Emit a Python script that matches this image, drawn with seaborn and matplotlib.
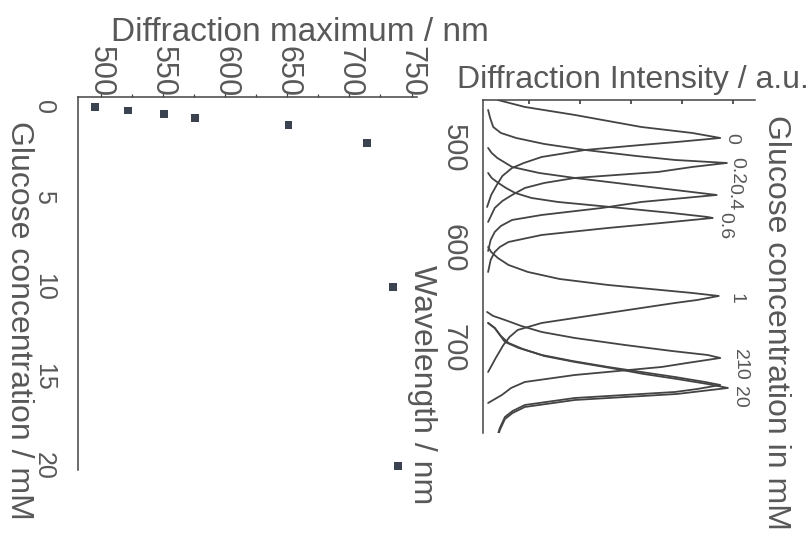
import matplotlib
matplotlib.use('Agg')
import matplotlib.pyplot as plt
from matplotlib.ticker import MultipleLocator
import seaborn as sns
import pandas as pd

sns.set_theme(style='white')
plt.rcParams['font.family'] = ['Liberation Sans', 'DejaVu Sans']

# ---- left panel: diffraction maximum vs glucose ----
glucose = [0, 0.2, 0.4, 0.6, 1, 2, 10, 20]
diff_max = [495, 522, 551, 576, 651, 714, 735, 739]

# ---- right panel: spectra (intensity a.u. vs wavelength nm) ----
curve_labels = ['0', '0.2', '0.4', '0.6', '1', '2', '10', '20']
lam_0 = [452, 459, 467, 479, 485, 490, 494, 497, 502, 509, 515, 520, 528, 537, 547, 559]
int_0 = [0.39, 0.92, 1.9, 3.2, 4.2, 4.75, 3.9, 3.2, 2.1, 1.25, 0.9, 0.67, 0.48, 0.37, 0.26, 0.18]
lam_02 = [462, 470, 479, 485, 490, 496, 502, 508, 512, 515, 519, 524, 530, 535, 540, 547, 553, 560, 574]
int_02 = [0.2, 0.24, 0.3, 0.45, 0.75, 1.3, 2.1, 3.1, 3.86, 4.88, 4.2, 3.53, 1.9, 1.3, 0.92, 0.67, 0.48, 0.33, 0.2]
lam_04 = [500, 505, 510, 519, 525, 530, 540, 547, 554, 560, 567, 572, 578, 584, 592, 603]
int_04 = [0.2, 0.27, 0.38, 0.67, 1.2, 1.9, 3.53, 4.68, 3.2, 2.43, 1.25, 0.67, 0.45, 0.33, 0.25, 0.2]
lam_06 = [525, 530, 535, 540, 545, 550, 554, 560, 565, 569, 570, 575, 580, 587, 594, 599, 604, 612, 624]
int_06 = [0.2, 0.27, 0.4, 0.55, 0.73, 1.05, 1.57, 2.8, 3.8, 4.5, 4.6, 3.6, 2.55, 1.25, 0.6, 0.43, 0.33, 0.25, 0.2]
lam_1 = [599, 604, 610, 617, 624, 631, 637, 645, 648, 652, 655, 665, 675, 682, 689, 697, 710, 724]
int_1 = [0.2, 0.26, 0.39, 0.6, 0.98, 1.6, 2.55, 4.2, 4.72, 4.3, 3.86, 2.55, 1.25, 0.78, 0.62, 0.5, 0.35, 0.2]
lam_2 = [664, 668, 672, 678, 684, 690, 697, 703, 707, 710, 715, 719, 727, 734, 740, 747, 755]
int_2 = [0.18, 0.3, 0.53, 0.85, 1.25, 1.9, 2.88, 3.8, 4.5, 4.75, 4.1, 3.6, 1.9, 0.92, 0.65, 0.47, 0.2]
lam_10 = [675, 680, 687, 694, 700, 707, 713, 719, 724, 729, 734, 737, 741, 744, 750, 757, 763, 769, 780, 790]
int_10 = [0.2, 0.33, 0.43, 0.53, 0.8, 1.25, 1.85, 2.55, 3.2, 3.86, 4.45, 4.75, 4.3, 3.86, 1.9, 0.92, 0.68, 0.53, 0.43, 0.37]
lam_20 = [675, 680, 688, 695, 701, 708, 714, 720, 726, 731, 736, 740, 743, 746, 752, 759, 765, 771, 782, 792]
int_20 = [0.2, 0.33, 0.45, 0.6, 0.88, 1.3, 1.9, 2.6, 3.25, 3.9, 4.5, 4.9, 4.4, 3.9, 1.9, 0.92, 0.68, 0.53, 0.43, 0.37]
label_int = [4.8, 4.9, 4.84, 4.67, 4.9, 4.96, 4.96, 4.96]
label_lam = [490, 523, 549, 578, 650, 706, 722, 749]

spectra = [(lam_0, int_0), (lam_02, int_02), (lam_04, int_04), (lam_06, int_06),
           (lam_1, int_1), (lam_2, int_2), (lam_10, int_10), (lam_20, int_20)]

ink = '#444444'
txt = '#585858'

fig = plt.figure(figsize=(8.1, 5.36), dpi=100)
ax1 = fig.add_axes([0.0963, 0.1231, 0.4185, 0.6959])
ax2 = fig.add_axes([0.5963, 0.1922, 0.3358, 0.6213])

# left panel
df1 = pd.DataFrame({'max': diff_max, 'glc': glucose})
sns.scatterplot(data=df1, x='max', y='glc', marker='s', s=32, color='#3b4250',
                edgecolor='none', ax=ax1)
ax1.set_xlim(481.5, 754.4)
ax1.set_ylim(20.2, -0.55)
ax1.xaxis.tick_top()
ax1.xaxis.set_major_locator(MultipleLocator(50))
ax1.xaxis.set_minor_locator(MultipleLocator(25))
ax1.yaxis.set_major_locator(MultipleLocator(5))
ax1.yaxis.set_minor_locator(MultipleLocator(2.5))
for s in ['right', 'bottom']:
    ax1.spines[s].set_visible(False)
for s in ['top', 'left']:
    ax1.spines[s].set_color(ink)
    ax1.spines[s].set_linewidth(1.1)
ax1.tick_params(axis='both', which='both', direction='out', color=ink,
                labelcolor=txt, width=0.9)
ax1.tick_params(which='major', length=3)
ax1.tick_params(which='minor', length=2.5)
ax1.tick_params(axis='x', labelrotation=-90, pad=-3, labelsize=22)
ax1.tick_params(axis='y', labelrotation=-90, pad=13, labelsize=18)
for lab in ax1.get_yticklabels():
    lab.set_va('center')
ax1.xaxis.set_label_position('top')
ax1.set_xlabel('Diffraction maximum / nm', fontsize=24, color=txt)
ax1.xaxis.label.set_va('center')
ax1.xaxis.set_label_coords(0.655, 1.174)
ax1.set_ylabel('Glucose concentration / mM', fontsize=23, color=txt,
               rotation=-90, va='center', ha='center')
ax1.yaxis.set_label_coords(-0.174, 0.402)

# right panel
for (lam, inten) in spectra:
    sns.lineplot(x=inten, y=lam, sort=False, estimator=None, color=ink,
                 linewidth=1.3, ax=ax2)
for lab, xi, yi in zip(curve_labels, label_int, label_lam):
    ax2.text(xi, yi, lab, rotation=-90, fontsize=14, color=txt,
             ha='left', va='center', clip_on=False)
ax2.set_xlim(0.1, 5.43)
ax2.set_ylim(785, 452)
ax2.xaxis.tick_top()
ax2.xaxis.set_major_locator(MultipleLocator(1))
ax2.set_xticklabels([])
ax2.yaxis.set_major_locator(MultipleLocator(100))
ax2.yaxis.set_minor_locator(MultipleLocator(50))
for s in ['right', 'bottom']:
    ax2.spines[s].set_visible(False)
for s in ['top', 'left']:
    ax2.spines[s].set_color(ink)
    ax2.spines[s].set_linewidth(1.1)
ax2.tick_params(axis='x', which='both', direction='in', length=3, color=ink,
                labeltop=False)
ax2.tick_params(axis='y', which='both', direction='out', color=ink,
                labelcolor=txt, labelsize=21, width=0.9, labelrotation=-90, pad=7)
ax2.tick_params(axis='y', which='major', length=4)
ax2.tick_params(axis='y', which='minor', length=2.5)
for lab in ax2.get_yticklabels():
    lab.set_va('center')
ax2.xaxis.set_label_position('top')
ax2.set_xlabel('Diffraction Intensity / a.u.', fontsize=23, color=txt)
ax2.xaxis.label.set_va('center')
ax2.xaxis.set_label_coords(0.551, 1.06)
ax2.set_ylabel('Wavelength / nm', fontsize=23, color=txt, rotation=-90,
               va='center', ha='center')
ax2.yaxis.set_label_coords(-0.224, 0.144)
ax2.text(1.077, 0.333, 'Glucose concentration in mM', transform=ax2.transAxes,
         rotation=-90, fontsize=23, color=txt, ha='center', va='center')

fig.savefig('out.png', dpi=100)
